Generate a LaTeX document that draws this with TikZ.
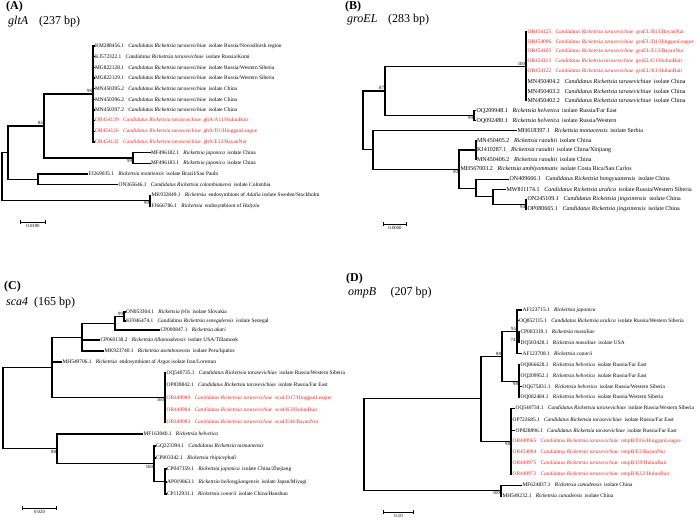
\documentclass[tikz,border=0pt]{standalone}
\usepackage{fontspec}
\setmainfont{Liberation Serif}
\usetikzlibrary{arrows.meta}
\definecolor{seqred}{RGB}{228,40,40}
\tikzset{
  branch/.style={line width=1.1pt},
  leaf/.style={anchor=west, inner sep=0.4pt, font=\fontsize{5.4}{6}\selectfont},
  bigleaf/.style={leaf, font=\fontsize{6}{7}\selectfont},
  newseq/.style={text=seqred},
  boot/.style={inner sep=0.8pt, font=\fontsize{4.8}{5}\selectfont},
  panel/.style={anchor=west, inner sep=0pt, font=\fontsize{12}{13}\selectfont\bfseries},
  gene/.style={anchor=west, inner sep=0pt, font=\fontsize{12}{13}\selectfont},
  scalebar/.style={line width=0.9pt, {Bar[width=4pt]}-{Bar[width=4pt]}},
}
\newcommand{\seq}[3]{#1\hspace{0.8em}\textit{#2}\hspace{0.45em}#3}
\newcommand{\crt}{Candidatus Rickettsia tarasevichiae}

\begin{document}
\begin{tikzpicture}[x=1pt, y=-1pt]
  \useasboundingbox (0,0) rectangle (700,520);

  % ---------- (A) gltA ----------
  \node[panel] (labA) at (6,7) {(A)};
  \node[gene] (geneA) at (8,22) {\textit{gltA}\hspace{0.9em}(237 bp)};
  % leaves
  \node[leaf] (a1) at (94.5,46.0) {\seq{KM288456.1}{\crt}{isolate Russia/Novosibirsk region}};
  \node[leaf] (a2) at (94.5,56.7) {\seq{KJ572322.1}{\crt}{isolate Russia/Komi}};
  \node[leaf] (a3) at (94.5,67.3) {\seq{MG822128.1}{\crt}{isolate Russia/Western Siberia}};
  \node[leaf] (a4) at (94.5,78.0) {\seq{MG822129.1}{\crt}{isolate Russia/Western Siberia}};
  \node[leaf] (a5) at (94.5,88.7) {\seq{MN450395.2}{\crt}{isolate China}};
  \node[leaf] (a6) at (94.5,99.3) {\seq{MN450396.2}{\crt}{isolate China}};
  \node[leaf] (a7) at (94.5,110.0) {\seq{MN450397.2}{\crt}{isolate China}};
  \node[leaf, newseq] (a8) at (94.5,120.7) {\seq{OR454139}{\crt}{gltA/A11/HulunBuir}};
  \node[leaf, newseq] (a9) at (94.5,131.3) {\seq{OR454126}{\crt}{gltA/D1/HingganLeague}};
  \node[leaf, newseq] (a10) at (94.5,142.0) {\seq{OR454132}{\crt}{gltA/E12/BayanNur}};
  \node[leaf] (a11) at (150.5,152.7) {\seq{MF496182.1}{Rickettsia japonica}{isolate China}};
  \node[leaf] (a12) at (150.5,163.3) {\seq{MF496183.1}{Rickettsia japonica}{isolate China}};
  \node[leaf] (a13) at (88,174.0) {\seq{FJ269035.1}{Rickettsia montiensis}{isolate Brazil/Sao Paulo}};
  \node[leaf] (a14) at (118,184.7) {\seq{ON365646.1}{Candidatus Rickettsia colombianensi}{isolate Colombia}};
  \node[leaf] (a15) at (151,195.3) {\seq{MK932849.1}{Rickettsia}{endosymbiont of \textit{Adalia} isolate Sweden/Stockholm}};
  \node[leaf] (a16) at (151,206.0) {\seq{FJ666786.1}{Rickettsia}{endosymbiont of \textit{Halyzia}}};
  % internal nodes
  \coordinate (aT) at (93,94.0);
  \coordinate (aJ) at (133,158.0);
  \coordinate (aK) at (44,126.0);
  \coordinate (aM) at (38,179.3);
  \coordinate (aL) at (8,152.7);
  \coordinate (aH) at (150,200.7);
  \coordinate (aR) at (2,176.7);
  % branches
  \draw[branch] (aR) |- (aL) (aR) |- (aH);
  \draw[branch] (aL) |- (aK) (aL) |- (aM);
  \draw[branch] (aK) |- (aT) (aK) |- (aJ);
  \draw[branch] (aT) |- (a1.west) (aT) |- (a2.west) (aT) |- (a3.west) (aT) |- (a4.west)
    (aT) |- (a5.west) (aT) |- (a6.west) (aT) |- (a7.west) (aT) |- (a8.west)
    (aT) |- (a9.west) (aT) |- (a10.west);
  \draw[branch] (aJ) |- (a11.west) (aJ) |- (a12.west);
  \draw[branch] (aM) |- (a13.west) (aM) |- (a14.west);
  \draw[branch] (aH) |- (a15.west) (aH) |- (a16.west);
  % bootstrap values
  \node[boot, anchor=south east] (bsA1) at (aT) {98};
  \node[boot, anchor=south east] (bsA2) at (aK) {85};
  \node[boot, anchor=north east] (bsA3) at (aJ) {99};
  \node[boot, anchor=north east] (bsA4) at (aH) {99};
  % scale
  \draw[scalebar] (20,222) -- (46,222) node[boot, midway, below=1.5pt] (sA) {0.0100};

  % ---------- (B) groEL ----------
  \node[panel] (labB) at (345,7) {(B)};
  \node[gene] (geneB) at (347,20) {\textit{groEL}\hspace{0.9em}(283 bp)};
  % leaves
  \node[leaf, newseq] (b1) at (527,32.0) {\seq{OR454125}{\crt}{groEL/B13/BayanNur}};
  \node[leaf, newseq] (b2) at (527,41.8) {\seq{OR454096}{\crt}{groEL/D1/HingganLeague}};
  \node[leaf, newseq] (b3) at (527,51.7) {\seq{OR454105}{\crt}{groEL/E13/BayanNur}};
  \node[leaf, newseq] (b4) at (527,61.5) {\seq{OR454113}{\crt}{groEL/G1/HulunBuir}};
  \node[leaf, newseq] (b5) at (527,71.3) {\seq{OR454122}{\crt}{groEL/K1/HulunBuir}};
  \node[bigleaf] (b6) at (527,81.2) {\seq{MN450404.2}{\crt}{isolate China}};
  \node[bigleaf] (b7) at (527,91.0) {\seq{MN450403.2}{\crt}{isolate China}};
  \node[bigleaf] (b8) at (527,100.8) {\seq{MN450402.2}{\crt}{isolate China}};
  \node[bigleaf] (b9) at (476,110.7) {\seq{OQ209948.1}{Rickettsia helvetica}{isolate Russia/Far East}};
  \node[bigleaf] (b10) at (476,120.5) {\seq{OQ092480.1}{Rickettsia helvetica}{isolate Russia/Western}};
  \node[bigleaf] (b11) at (517,130.3) {\seq{MH618397.1}{Rickettsia monacensis}{isolate Serbia}};
  \node[bigleaf] (b12) at (476.5,140.2) {\seq{MN450405.2}{Rickettsia raoultii}{isolate China}};
  \node[bigleaf] (b13) at (476.5,150.0) {\seq{KJ410287.1}{Rickettsia raoultii}{isolate China/Xinjiang}};
  \node[bigleaf] (b14) at (476.5,159.8) {\seq{MN450406.2}{Rickettsia raoultii}{isolate China}};
  \node[bigleaf] (b15) at (460,169.4) {\seq{MH567003.2}{Rickettsia amblyommatis}{isolate Costa Rica/San Carlos}};
  \node[bigleaf] (b16) at (509,179.5) {\seq{ON409666.1}{Candidatus Rickettsia hongyuanensis}{isolate China}};
  \node[bigleaf] (b17) at (506,189.3) {\seq{MW811174.1}{Candidatus Rickettsia uralica}{isolate Russia/Western Siberia}};
  \node[bigleaf] (b18) at (527,199.2) {\seq{ON245109.1}{Candidatus Rickettsia jingxinensis}{isolate China}};
  \node[bigleaf] (b19) at (527,209.0) {\seq{OP080665.1}{Candidatus Rickettsia jingxinensis}{isolate China}};
  % internal nodes
  \coordinate (bT) at (526,66.4);
  \coordinate (bH) at (474,115.6);
  \coordinate (bE) at (385,91.0);
  \coordinate (bRa) at (476,150.0);
  \coordinate (bJ) at (526,204.1);
  \coordinate (bU) at (493,196.7);
  \coordinate (bO) at (476,188.1);
  \coordinate (bN) at (459,169.4);
  \coordinate (bM) at (373,149.9);
  \coordinate (bR) at (363,120.4);
  % branches
  \draw[branch] (bR) |- (bE) (bR) |- (bM);
  \draw[branch] (bE) |- (bT) (bE) |- (bH);
  \draw[branch] (bT) |- (b1.west) (bT) |- (b2.west) (bT) |- (b3.west) (bT) |- (b4.west)
    (bT) |- (b5.west) (bT) |- (b6.west) (bT) |- (b7.west) (bT) |- (b8.west);
  \draw[branch] (bH) |- (b9.west) (bH) |- (b10.west);
  \draw[branch] (bM) |- (b11.west) (bM) |- (bN);
  \draw[branch] (bN) |- (bRa) (bN) |- (b15.west) (bN) |- (bO);
  \draw[branch] (bRa) |- (b12.west) (bRa) |- (b13.west) (bRa) |- (b14.west);
  \draw[branch] (bO) |- (b16.west) (bO) |- (bU);
  \draw[branch] (bU) |- (b17.west) (bU) |- (bJ);
  \draw[branch] (bJ) |- (b18.west) (bJ) |- (b19.west);
  % bootstrap values
  \node[boot, anchor=south east] (bsB1) at (bT) {100};
  \node[boot, anchor=south east] (bsB2) at (bE) {87};
  \node[boot, anchor=north east] (bsB3) at (bH) {99};
  \node[boot, anchor=north east] (bsB4) at (bN) {90};
  \node[boot, anchor=north east] (bsB5) at (bJ) {94};
  % scale
  \draw[scalebar] (383,224) -- (407,224) node[boot, midway, below=1.5pt] (sB) {0.0050};

  % ---------- (C) sca4 ----------
  \node[panel] (labC) at (4,287) {(C)};
  \node[gene] (geneC) at (6,303) {\textit{sca4}\hspace{0.5em}(165 bp)};
  % leaves
  \node[leaf] (c1) at (125.5,312) {\seq{ON053304.1}{Rickettsia felis}{isolate Slovakia}};
  \node[leaf] (c2) at (125.5,321) {\seq{KF046474.1}{Candidatus Rickettsia senegalensis}{isolate Senegal}};
  \node[leaf] (c3) at (160,330) {\seq{CP000847.1}{Rickettsia akari}{}};
  \node[leaf] (c4) at (100,340) {\seq{CP060138.2}{Rickettsia tillamookensis}{isolate USA/Tillamook}};
  \node[leaf] (c5) at (104,351) {\seq{MK923740.1}{Rickettsia asembonensis}{isolate Peru/Iquitos}};
  \node[leaf] (c6) at (62,362) {\seq{MH549706.1}{Rickettsia}{endosymbiont of \textit{Argas} isolate Iran/Lorestan}};
  \node[leaf] (c7) at (166,373) {\seq{OQ540735.1}{\crt}{isolate Russia/Western Siberia}};
  \node[leaf] (c8) at (166,385) {\seq{OP839842.1}{\crt}{isolate Russia/Far East}};
  \node[leaf, newseq] (c9) at (166,398) {\seq{OR449980}{\crt}{sca4/D17/HingganLeague}};
  \node[leaf, newseq] (c10) at (166,410) {\seq{OR449984}{\crt}{sca4/K3/HulunBuir}};
  \node[leaf, newseq] (c11) at (166,422) {\seq{OR449983}{\crt}{sca4/E44/BayanNur}};
  \node[leaf] (c12) at (143,434) {\seq{MF163040.1}{Rickettsia helvetica}{}};
  \node[leaf] (c13) at (155.5,446) {\seq{GQ223394.1}{Candidatus Rickettsia tasmanensis}{}};
  \node[leaf] (c14) at (155.5,458) {\seq{CP003342.1}{Rickettsia rhipicephali}{}};
  \node[leaf] (c15) at (166.5,469) {\seq{CP047359.1}{Rickettsia japonica}{isolate China/Zhejiang}};
  \node[leaf] (c16) at (166.5,482) {\seq{AP019863.1}{Rickettsia heilongjiangensis}{isolate Japan/Miyagi}};
  \node[leaf] (c17) at (166.5,494) {\seq{CP112931.1}{Rickettsia conorii}{isolate China/Hanshun}};
  % internal nodes
  \coordinate (cF) at (124,316.5);
  \coordinate (cA) at (115,323.2);
  \coordinate (cT) at (82,337.1);
  \coordinate (cS) at (165,397.5);
  \coordinate (cG) at (52,367.3);
  \coordinate (cJ) at (165,481.5);
  \coordinate (cK) at (154,463.8);
  \coordinate (cH) at (57,448.9);
  \coordinate (cR) at (3,408.1);
  % branches
  \draw[branch] (cR) |- (cG) (cR) |- (cH);
  \draw[branch] (cG) |- (cT) (cG) |- (c6.west) (cG) |- (cS);
  \draw[branch] (cT) |- (cA) (cT) |- (c4.west) (cT) |- (c5.west);
  \draw[branch] (cA) |- (cF) (cA) |- (c3.west);
  \draw[branch] (cF) |- (c1.west) (cF) |- (c2.west);
  \draw[branch] (cS) |- (c7.west) (cS) |- (c8.west) (cS) |- (c9.west) (cS) |- (c10.west) (cS) |- (c11.west);
  \draw[branch] (cH) |- (c12.west) (cH) |- (cK);
  \draw[branch] (cK) |- (c13.west) (cK) |- (c14.west) (cK) |- (cJ);
  \draw[branch] (cJ) |- (c15.west) (cJ) |- (c16.west) (cJ) |- (c17.west);
  % bootstrap values
  \node[boot, anchor=south east] (bsC1) at (cF) {99};
  \node[boot, anchor=north east] (bsC2) at (cS) {100};
  \node[boot, anchor=north east] (bsC3) at (cH) {88};
  \node[boot, anchor=north east] (bsC4) at (cK) {100};
  % scale
  \draw[scalebar] (22,508) -- (57,508) node[boot, midway, below=1.5pt] (sC) {0.020};

  % ---------- (D) ompB ----------
  \node[panel] (labD) at (346,279) {(D)};
  \node[gene] (geneD) at (348,293) {\textit{ompB}\hspace{1.2em}(207 bp)};
  % leaves
  \node[leaf] (d1) at (522,310.0) {\seq{AF123715.1}{Rickettsia japonica}{}};
  \node[leaf] (d2) at (518.5,320.9) {\seq{OQ852115.1}{Candidatus Rickettsia uralica}{isolate Russia/Western Siberia}};
  \node[leaf] (d3) at (520,331.9) {\seq{CP003319.1}{Rickettsia massiliae}{}};
  \node[leaf] (d4) at (520,342.8) {\seq{DQ503428.1}{Rickettsia massiliae}{isolate USA}};
  \node[leaf] (d5) at (522,353.8) {\seq{AF123708.1}{Rickettsia conorii}{}};
  \node[leaf] (d6) at (520,364.7) {\seq{OQ866628.1}{Rickettsia helvetica}{isolate Russia/Far East}};
  \node[leaf] (d7) at (520,375.6) {\seq{OQ209952.1}{Rickettsia helvetica}{isolate Russia/Far East}};
  \node[leaf] (d8) at (522,386.6) {\seq{OQ675831.1}{Rickettsia helvetica}{isolate Russia/Western Siberia}};
  \node[leaf] (d9) at (520,397.5) {\seq{OQ082484.1}{Rickettsia helvetica}{isolate Russia/Western Siberia}};
  \node[leaf] (d10) at (515,408.5) {\seq{OQ540734.1}{\crt}{isolate Russia/Western Siberia}};
  \node[leaf] (d11) at (512,419.4) {\seq{OP722685.1}{\crt}{isolate Russia/Far East}};
  \node[leaf] (d12) at (515,430.4) {\seq{OP828896.1}{\crt}{isolate Russia/Far East}};
  \node[leaf, newseq] (d13) at (512,441.3) {\seq{OR449965}{\crt}{ompB/D16/HingganLeague}};
  \node[leaf, newseq] (d14) at (512,452.2) {\seq{OR454094}{\crt}{ompB/E3/BayanNur}};
  \node[leaf, newseq] (d15) at (512,463.2) {\seq{OR449975}{\crt}{ompB/G9/HulunBuir}};
  \node[leaf, newseq] (d16) at (512,474.1) {\seq{OR449972}{\crt}{ompB/K12/HulunBuir}};
  \node[leaf] (d17) at (522,485.1) {\seq{MF624837.1}{Rickettsia canadensis}{isolate China}};
  \node[leaf] (d18) at (502,496.0) {\seq{MH549232.1}{Rickettsia canadensis}{isolate China}};
  % internal nodes
  \coordinate (dM) at (519,337.4);
  \coordinate (dJ) at (517,331.9);
  \coordinate (dH) at (519,381.1);
  \coordinate (dE) at (502,356.5);
  \coordinate (dT) at (511,441.3);
  \coordinate (dK) at (481,398.9);
  \coordinate (dC) at (501,490.5);
  \coordinate (dR) at (364,444.7);
  % branches
  \draw[branch] (dR) |- (dK) (dR) |- (dC);
  \draw[branch] (dK) |- (dE) (dK) |- (dT);
  \draw[branch] (dE) |- (dJ) (dE) |- (dH);
  \draw[branch] (dJ) |- (d1.west) (dJ) |- (d2.west) (dJ) |- (dM) (dJ) |- (d5.west);
  \draw[branch] (dM) |- (d3.west) (dM) |- (d4.west);
  \draw[branch] (dH) |- (d6.west) (dH) |- (d7.west) (dH) |- (d8.west) (dH) |- (d9.west);
  \draw[branch] (dT) |- (d10.west) (dT) |- (d11.west) (dT) |- (d12.west) (dT) |- (d13.west)
    (dT) |- (d14.west) (dT) |- (d15.west) (dT) |- (d16.west);
  \draw[branch] (dC) |- (d17.west) (dC) |- (d18.west);
  % bootstrap values
  \node[boot, anchor=south east] (bsD1) at (dJ) {95};
  \node[boot, anchor=north east] (bsD2) at ([xshift=-2.5pt]dM) {74};
  \node[boot, anchor=south east] (bsD3) at (dE) {88};
  \node[boot, anchor=north east] (bsD4) at (dH) {98};
  \node[boot, anchor=north east] (bsD5) at (dT) {98};
  \node[boot, anchor=north east] (bsD6) at (dC) {100};
  % scale
  \draw[scalebar] (383,512) -- (414,512) node[boot, midway, below=1.5pt] (sD) {0.10};
\end{tikzpicture}
\end{document}
